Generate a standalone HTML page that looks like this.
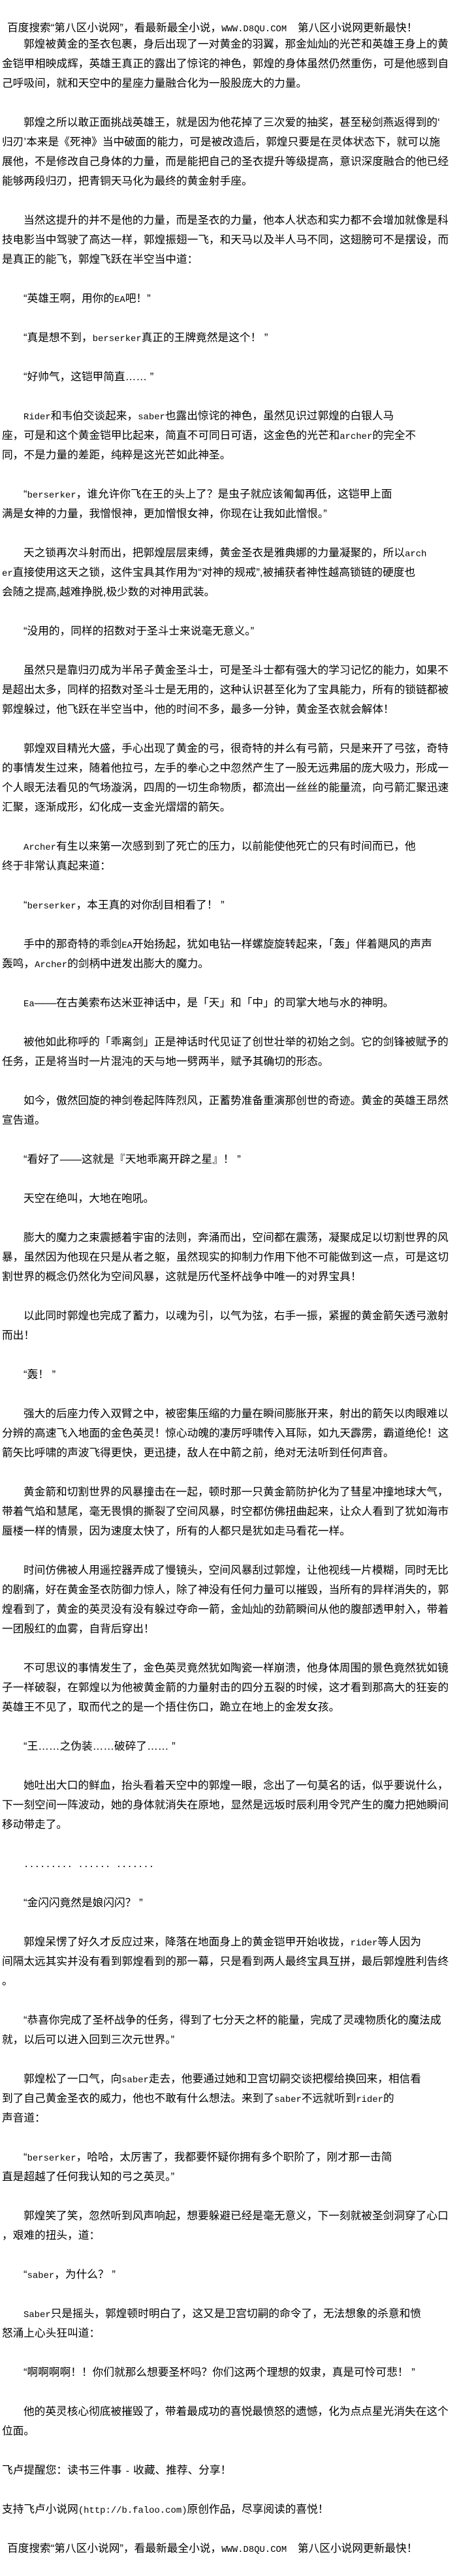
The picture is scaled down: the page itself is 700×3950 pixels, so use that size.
<!DOCTYPE html>
<html><head><meta charset="utf-8"><style>
html,body{margin:0;padding:0;background:#fff;}
body{width:700px;height:3950px;position:relative;overflow:hidden;}
div{position:absolute;white-space:nowrap;font-family:"Liberation Sans","Noto Sans CJK SC",sans-serif;font-size:16.7px;line-height:30px;color:#000;height:30px;}
.i{left:36px}.n{left:3px}.h{left:11px}
i{font-style:normal;font-family:"Liberation Mono",monospace;font-size:13.9px;}
</style></head><body>
<div class="h" style="top:28px">百度搜索“第八区小说网”，看最新最全小说，<i>WWW.D8QU.COM</i>　第八区小说网更新最快！</div>
<div class="i" style="top:53px">郭煌被黄金的圣衣包裹，身后出现了一对黄金的羽翼，那金灿灿的光芒和英雄王身上的黄</div>
<div class="n" style="top:83px">金铠甲相映成辉，英雄王真正的露出了惊诧的神色，郭煌的身体虽然仍然重伤，可是他感到自</div>
<div class="n" style="top:113px">己呼吸间，就和天空中的星座力量融合化为一股股庞大的力量。</div>
<div class="i" style="top:173px">郭煌之所以敢正面挑战英雄王，就是因为他花掉了三次爱的抽奖，甚至秘剑燕返得到的‘</div>
<div class="n" style="top:203px">归刃’本来是《死神》当中破面的能力，可是被改造后，郭煌只要是在灵体状态下，就可以施</div>
<div class="n" style="top:233px">展他，不是修改自己身体的力量，而是能把自己的圣衣提升等级提高，意识深度融合的他已经</div>
<div class="n" style="top:263px">能够两段归刃，把青铜天马化为最终的黄金射手座。</div>
<div class="i" style="top:323px">当然这提升的并不是他的力量，而是圣衣的力量，他本人状态和实力都不会增加就像是科</div>
<div class="n" style="top:353px">技电影当中驾驶了高达一样，郭煌振翅一飞，和天马以及半人马不同，这翅膀可不是摆设，而</div>
<div class="n" style="top:383px">是真正的能飞，郭煌飞跃在半空当中道：</div>
<div class="i" style="top:443px">“英雄王啊，用你的<i>EA</i>吧！”</div>
<div class="i" style="top:503px">“真是想不到，<i>berserker</i>真正的王牌竟然是这个！ ”</div>
<div class="i" style="top:563px">“好帅气，这铠甲简直…… ”</div>
<div class="i" style="top:623px"><i>Rider</i>和韦伯交谈起来，<i>saber</i>也露出惊诧的神色，虽然见识过郭煌的白银人马</div>
<div class="n" style="top:653px">座，可是和这个黄金铠甲比起来，简直不可同日可语，这金色的光芒和<i>archer</i>的完全不</div>
<div class="n" style="top:683px">同，不是力量的差距，纯粹是这光芒如此神圣。</div>
<div class="i" style="top:743px">“<i>berserker</i>，谁允许你飞在王的头上了？是虫子就应该匍匐再低，这铠甲上面</div>
<div class="n" style="top:773px">满是女神的力量，我憎恨神，更加憎恨女神，你现在让我如此憎恨。”</div>
<div class="i" style="top:833px">天之锁再次斗射而出，把郭煌层层束缚，黄金圣衣是雅典娜的力量凝聚的，所以<i>arch</i></div>
<div class="n" style="top:863px"><i>er</i>直接使用这天之锁，这件宝具其作用为“对神的规戒”,被捕获者神性越高锁链的硬度也</div>
<div class="n" style="top:893px">会随之提高,越难挣脱,极少数的对神用武装。</div>
<div class="i" style="top:953px">“没用的，同样的招数对于圣斗士来说毫无意义。”</div>
<div class="i" style="top:1013px">虽然只是靠归刃成为半吊子黄金圣斗士，可是圣斗士都有强大的学习记忆的能力，如果不</div>
<div class="n" style="top:1043px">是超出太多，同样的招数对圣斗士是无用的，这种认识甚至化为了宝具能力，所有的锁链都被</div>
<div class="n" style="top:1073px">郭煌躲过，他飞跃在半空当中，他的时间不多，最多一分钟，黄金圣衣就会解体！</div>
<div class="i" style="top:1133px">郭煌双目精光大盛，手心出现了黄金的弓，很奇特的并么有弓箭，只是来开了弓弦，奇特</div>
<div class="n" style="top:1163px">的事情发生过来，随着他拉弓，左手的拳心之中忽然产生了一股无远弗届的庞大吸力，形成一</div>
<div class="n" style="top:1193px">个人眼无法看见的气场漩涡，四周的一切生命物质，都流出一丝丝的能量流，向弓箭汇聚迅速</div>
<div class="n" style="top:1223px">汇聚，逐渐成形，幻化成一支金光熠熠的箭矢。</div>
<div class="i" style="top:1283px"><i>Archer</i>有生以来第一次感到到了死亡的压力，以前能使他死亡的只有时间而已，他</div>
<div class="n" style="top:1313px">终于非常认真起来道：</div>
<div class="i" style="top:1373px">“<i>berserker</i>，本王真的对你刮目相看了！ ”</div>
<div class="i" style="top:1433px">手中的那奇特的乖剑<i>EA</i>开始扬起，犹如电钻一样螺旋旋转起来，「轰」伴着飓风的声声</div>
<div class="n" style="top:1463px">轰鸣，<i>Archer</i>的剑柄中迸发出膨大的魔力。</div>
<div class="i" style="top:1523px"><i>Ea</i>——在古美索布达米亚神话中，是「天」和「中」的司掌大地与水的神明。</div>
<div class="i" style="top:1583px">被他如此称呼的「乖离剑」正是神话时代见证了创世壮举的初始之剑。它的剑锋被赋予的</div>
<div class="n" style="top:1613px">任务，正是将当时一片混沌的天与地一劈两半，赋予其确切的形态。</div>
<div class="i" style="top:1673px">如今，傲然回旋的神剑卷起阵阵烈风，正蓄势准备重演那创世的奇迹。黄金的英雄王昂然</div>
<div class="n" style="top:1703px">宣告道。</div>
<div class="i" style="top:1763px">“看好了——这就是『天地乖离开辟之星』！ ”</div>
<div class="i" style="top:1823px">天空在绝叫，大地在咆吼。</div>
<div class="i" style="top:1883px">膨大的魔力之束震撼着宇宙的法则，奔涌而出，空间都在震荡，凝聚成足以切割世界的风</div>
<div class="n" style="top:1913px">暴，虽然因为他现在只是从者之躯，虽然现实的抑制力作用下他不可能做到这一点，可是这切</div>
<div class="n" style="top:1943px">割世界的概念仍然化为空间风暴，这就是历代圣杯战争中唯一的对界宝具！</div>
<div class="i" style="top:2003px">以此同时郭煌也完成了蓄力，以魂为引，以气为弦，右手一振，紧握的黄金箭矢透弓激射</div>
<div class="n" style="top:2033px">而出！</div>
<div class="i" style="top:2093px">“轰！ ”</div>
<div class="i" style="top:2153px">强大的后座力传入双臂之中，被密集压缩的力量在瞬间膨胀开来，射出的箭矢以肉眼难以</div>
<div class="n" style="top:2183px">分辨的高速飞入地面的金色英灵！惊心动魄的凄厉呼啸传入耳际，如九天霹雳，霸道绝伦！这</div>
<div class="n" style="top:2213px">箭矢比呼啸的声波飞得更快，更迅捷，敌人在中箭之前，绝对无法听到任何声音。</div>
<div class="i" style="top:2273px">黄金箭和切割世界的风暴撞击在一起，顿时那一只黄金箭防护化为了彗星冲撞地球大气，</div>
<div class="n" style="top:2303px">带着气焰和慧尾，毫无畏惧的撕裂了空间风暴，时空都仿佛扭曲起来，让众人看到了犹如海市</div>
<div class="n" style="top:2333px">蜃楼一样的情景，因为速度太快了，所有的人都只是犹如走马看花一样。</div>
<div class="i" style="top:2393px">时间仿佛被人用遥控器弄成了慢镜头，空间风暴刮过郭煌，让他视线一片模糊，同时无比</div>
<div class="n" style="top:2423px">的剧痛，好在黄金圣衣防御力惊人，除了神没有任何力量可以摧毁，当所有的异样消失的，郭</div>
<div class="n" style="top:2453px">煌看到了，黄金的英灵没有没有躲过夺命一箭，金灿灿的劲箭瞬间从他的腹部透甲射入，带着</div>
<div class="n" style="top:2483px">一团殷红的血雾，自背后穿出！</div>
<div class="i" style="top:2543px">不可思议的事情发生了，金色英灵竟然犹如陶瓷一样崩溃，他身体周围的景色竟然犹如镜</div>
<div class="n" style="top:2573px">子一样破裂，在郭煌以为他被黄金箭的力量射击的四分五裂的时候，这才看到那高大的狂妄的</div>
<div class="n" style="top:2603px">英雄王不见了，取而代之的是一个捂住伤口，跪立在地上的金发女孩。</div>
<div class="i" style="top:2663px">“王……之伪装……破碎了…… ”</div>
<div class="i" style="top:2723px">她吐出大口的鲜血，抬头看着天空中的郭煌一眼，念出了一句莫名的话，似乎要说什么，</div>
<div class="n" style="top:2753px">下一刻空间一阵波动，她的身体就消失在原地，显然是远坂时辰利用令咒产生的魔力把她瞬间</div>
<div class="n" style="top:2783px">移动带走了。</div>
<div class="i" style="top:2843px"><i>......... ...... .......</i></div>
<div class="i" style="top:2903px">“金闪闪竟然是娘闪闪？ ”</div>
<div class="i" style="top:2963px">郭煌呆愣了好久才反应过来，降落在地面身上的黄金铠甲开始收拢，<i>rider</i>等人因为</div>
<div class="n" style="top:2993px">间隔太远其实并没有看到郭煌看到的那一幕，只是看到两人最终宝具互拼，最后郭煌胜利告终</div>
<div class="n" style="top:3023px">。</div>
<div class="i" style="top:3083px">“恭喜你完成了圣杯战争的任务，得到了七分天之杯的能量，完成了灵魂物质化的魔法成</div>
<div class="n" style="top:3113px">就，以后可以进入回到三次元世界。”</div>
<div class="i" style="top:3173px">郭煌松了一口气，向<i>saber</i>走去，他要通过她和卫宫切嗣交谈把樱给换回来，相信看</div>
<div class="n" style="top:3203px">到了自己黄金圣衣的威力，他也不敢有什么想法。来到了<i>saber</i>不远就听到<i>rider</i>的</div>
<div class="n" style="top:3233px">声音道：</div>
<div class="i" style="top:3293px">“<i>berserker</i>，哈哈，太厉害了，我都要怀疑你拥有多个职阶了，刚才那一击简</div>
<div class="n" style="top:3323px">直是超越了任何我认知的弓之英灵。”</div>
<div class="i" style="top:3383px">郭煌笑了笑，忽然听到风声响起，想要躲避已经是毫无意义，下一刻就被圣剑洞穿了心口</div>
<div class="n" style="top:3413px">，艰难的扭头，道：</div>
<div class="i" style="top:3473px">“<i>saber</i>，为什么？ ”</div>
<div class="i" style="top:3533px"><i>Saber</i>只是摇头，郭煌顿时明白了，这又是卫宫切嗣的命令了，无法想象的杀意和愤</div>
<div class="n" style="top:3563px">怒涌上心头狂叫道：</div>
<div class="i" style="top:3623px">“啊啊啊啊！！你们就那么想要圣杯吗？你们这两个理想的奴隶，真是可怜可悲！ ”</div>
<div class="i" style="top:3683px">他的英灵核心彻底被摧毁了，带着最成功的喜悦最愤怒的遗憾，化为点点星光消失在这个</div>
<div class="n" style="top:3713px">位面。</div>
<div class="n" style="top:3773px">飞卢提醒您：读书三件事 <i>-</i> 收藏、推荐、分享！</div>
<div class="n" style="top:3833px">支持飞卢小说网<i>(http://b.faloo.com)</i>原创作品，尽享阅读的喜悦！</div>
<div class="h" style="top:3893px">百度搜索“第八区小说网”，看最新最全小说，<i>WWW.D8QU.COM</i>　第八区小说网更新最快！</div>
</body></html>
